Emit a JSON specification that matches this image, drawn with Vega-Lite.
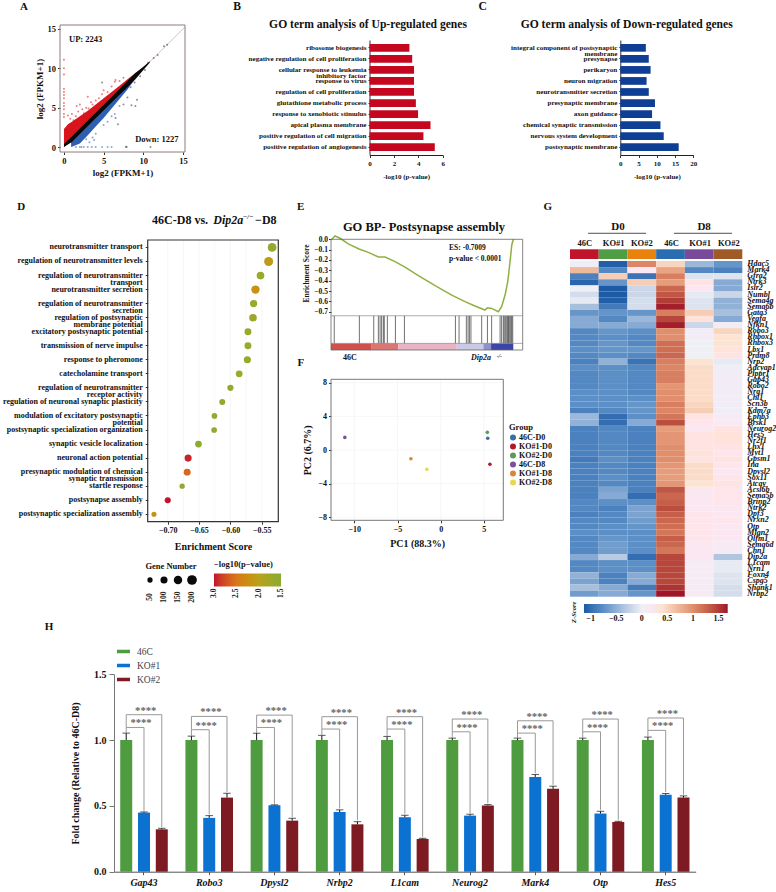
{"$schema":"https://vega.github.io/schema/vega-lite/v6.json","width":776,"height":892,"autosize":{"type":"none"},"padding":0,"background":"white",
"config":{"font":"Liberation Serif","view":{"stroke":null},"axis":{"grid":false,"labelFont":"Liberation Serif","titleFont":"Liberation Serif","labelFontWeight":"bold","titleFontWeight":"bold","labelColor":"#111","titleColor":"#111","labelOverlap":false,"labelFlush":false,"tickSize":2.5,"labelPadding":2,"domainColor":"#333","tickColor":"#333"},"legend":{"labelFont":"Liberation Serif","titleFont":"Liberation Serif","labelFontWeight":"bold","titleFontWeight":"bold","labelColor":"#111","titleColor":"#111"},"text":{"font":"Liberation Serif","fontWeight":"bold","color":"#111"}},
"datasets":{"bars":[{"gene":"Gap43","s":"46C","v":1,"e":1.053},{"gene":"Gap43","s":"KO#1","v":0.449,"e":0.454},{"gene":"Gap43","s":"KO#2","v":0.322,"e":0.33},{"gene":"Robo3","s":"46C","v":1,"e":1.03},{"gene":"Robo3","s":"KO#1","v":0.409,"e":0.426},{"gene":"Robo3","s":"KO#2","v":0.563,"e":0.596},{"gene":"Dpysl2","s":"46C","v":1,"e":1.053},{"gene":"Dpysl2","s":"KO#1","v":0.505,"e":0.508},{"gene":"Dpysl2","s":"KO#2","v":0.388,"e":0.406},{"gene":"Nrbp2","s":"46C","v":1,"e":1.036},{"gene":"Nrbp2","s":"KO#1","v":0.454,"e":0.47},{"gene":"Nrbp2","s":"KO#2","v":0.36,"e":0.38},{"gene":"L1cam","s":"46C","v":1,"e":1.028},{"gene":"L1cam","s":"KO#1","v":0.414,"e":0.429},{"gene":"L1cam","s":"KO#2","v":0.249,"e":0.254},{"gene":"Neurog2","s":"46C","v":1,"e":1.015},{"gene":"Neurog2","s":"KO#1","v":0.426,"e":0.437},{"gene":"Neurog2","s":"KO#2","v":0.503,"e":0.51},{"gene":"Mark4","s":"46C","v":1,"e":1.015},{"gene":"Mark4","s":"KO#1","v":0.72,"e":0.739},{"gene":"Mark4","s":"KO#2","v":0.63,"e":0.65},{"gene":"Otp","s":"46C","v":1,"e":1.015},{"gene":"Otp","s":"KO#1","v":0.442,"e":0.459},{"gene":"Otp","s":"KO#2","v":0.378,"e":0.383},{"gene":"Hes5","s":"46C","v":1,"e":1.023},{"gene":"Hes5","s":"KO#1","v":0.584,"e":0.594},{"gene":"Hes5","s":"KO#2","v":0.563,"e":0.576}]},
"resolve":{"scale":{"x":"independent","y":"independent","color":"independent","size":"independent","xOffset":"independent"},"axis":{"x":"independent","y":"independent"},"legend":{"color":"independent","size":"independent"}},
"layer":[
{"data":{"values":[{"x":0,"y":0},{"x":15.25,"y":15.25}]},"mark":{"type":"line","color":"#e6bcbc","strokeWidth":1},"encoding":{"x":{"field":"x","type":"quantitative","scale":{"domain":[-0.5,15.25],"range":[60,185],"nice":false,"zero":false},"axis":{"orient":"bottom","offset":-740,"values":[0,5,10,15],"title":"log2 (FPKM+1)","labelFontSize":8.5,"titleFontSize":9,"domain":false,"titlePadding":3}},"y":{"field":"y","type":"quantitative","scale":{"domain":[-0.63,15.5],"range":[152,25],"nice":false,"zero":false},"axis":{"orient":"left","offset":-60,"values":[0,5,10,15],"title":"log2 (FPKM+1)","labelFontSize":8.5,"titleFontSize":9,"domain":false,"titlePadding":3}}}},
{"layer":[
{"data":{"values":[{"x":0,"a":0,"b":2.3},{"x":0.5,"a":0.5,"b":2.9},{"x":1,"a":1,"b":3.2},{"x":2,"a":2,"b":3.9},{"x":3,"a":3,"b":4.6},{"x":4,"a":4,"b":5.4},{"x":5,"a":5,"b":6.2},{"x":6,"a":6,"b":7},{"x":7,"a":7,"b":7.8},{"x":8,"a":8,"b":8.6},{"x":9,"a":9,"b":9.4},{"x":9.5,"a":9.5,"b":9.7}]},"mark":{"type":"area","color":"#d8141c","orient":"vertical"},"encoding":{"x":{"field":"x","type":"quantitative","scale":{"domain":[-0.5,15.25],"range":[60,185],"nice":false,"zero":false},"axis":null},"y":{"field":"a","type":"quantitative","scale":{"domain":[-0.63,15.5],"range":[152,25],"nice":false,"zero":false},"axis":null},"y2":{"field":"b"}}},
{"data":{"values":[{"x":0.9,"a":0,"b":0.9},{"x":1,"a":0.05,"b":1},{"x":2,"a":0.45,"b":2},{"x":3,"a":1.5,"b":3},{"x":4,"a":2.6,"b":4},{"x":5,"a":3.7,"b":5},{"x":6,"a":4.9,"b":6},{"x":7,"a":6.1,"b":7},{"x":8,"a":7.3,"b":8},{"x":9,"a":8.7,"b":9},{"x":9.5,"a":9.4,"b":9.5}]},"mark":{"type":"area","color":"#2f5fb0","orient":"vertical"},"encoding":{"x":{"field":"x","type":"quantitative","axis":null},"y":{"field":"a","type":"quantitative","axis":null},"y2":{"field":"b"}}},
{"data":{"values":[{"x":0,"a":0,"b":0.4},{"x":1,"a":0.65,"b":1.35},{"x":2,"a":1.65,"b":2.35},{"x":4,"a":3.65,"b":4.35},{"x":6,"a":5.65,"b":6.35},{"x":8,"a":7.6,"b":8.4},{"x":9,"a":8.6,"b":9.4},{"x":10,"a":9.8,"b":10.2},{"x":10.8,"a":10.7,"b":10.9}]},"mark":{"type":"area","color":"#0a0a0a","orient":"vertical"},"encoding":{"x":{"field":"x","type":"quantitative","axis":null},"y":{"field":"a","type":"quantitative","axis":null},"y2":{"field":"b"}}},
{"data":{"values":[{"x":0,"y":11.1,"k":"up"},{"x":0,"y":10,"k":"up"},{"x":0,"y":9.2,"k":"up"},{"x":0,"y":7.4,"k":"up"},{"x":0,"y":7,"k":"up"},{"x":0,"y":6.6,"k":"up"},{"x":0,"y":6.2,"k":"up"},{"x":0,"y":5.6,"k":"up"},{"x":0,"y":5.2,"k":"up"},{"x":0,"y":4.8,"k":"up"},{"x":0,"y":4.2,"k":"up"},{"x":0,"y":3.8,"k":"up"},{"x":0.5,"y":4,"k":"up"},{"x":0.8,"y":3.6,"k":"up"},{"x":1,"y":4.2,"k":"up"},{"x":1.2,"y":3.4,"k":"up"},{"x":1.5,"y":3.9,"k":"up"},{"x":1.6,"y":5.2,"k":"up"},{"x":1.8,"y":4.5,"k":"up"},{"x":2,"y":5.4,"k":"up"},{"x":2.3,"y":4.8,"k":"up"},{"x":2.5,"y":4.3,"k":"up"},{"x":2.8,"y":5,"k":"up"},{"x":3,"y":6.4,"k":"up"},{"x":3.1,"y":4.9,"k":"up"},{"x":3.4,"y":5.7,"k":"up"},{"x":3.6,"y":5.4,"k":"up"},{"x":4,"y":5.9,"k":"up"},{"x":4.4,"y":6.2,"k":"up"},{"x":4.8,"y":6.7,"k":"up"},{"x":5,"y":7.2,"k":"up"},{"x":4.8,"y":8.2,"k":"ns"},{"x":5.5,"y":7,"k":"up"},{"x":6,"y":7.7,"k":"up"},{"x":6.4,"y":8.3,"k":"up"},{"x":6.5,"y":8.5,"k":"up"},{"x":7,"y":8.4,"k":"up"},{"x":7.5,"y":8.8,"k":"up"},{"x":1.5,"y":0,"k":"down"},{"x":2,"y":0,"k":"down"},{"x":2.2,"y":0,"k":"down"},{"x":2.5,"y":0,"k":"down"},{"x":3,"y":0,"k":"down"},{"x":3.5,"y":0,"k":"down"},{"x":4,"y":0,"k":"down"},{"x":4.8,"y":0,"k":"down"},{"x":5.5,"y":0,"k":"down"},{"x":6,"y":0,"k":"down"},{"x":7.9,"y":0,"k":"ns"},{"x":7.8,"y":0.05,"k":"ns"},{"x":10.9,"y":0,"k":"ns"},{"x":2.8,"y":1,"k":"down"},{"x":3.2,"y":0.6,"k":"down"},{"x":3.6,"y":1.2,"k":"down"},{"x":3.8,"y":0.9,"k":"down"},{"x":4,"y":1.7,"k":"down"},{"x":5,"y":2.8,"k":"down"},{"x":5.5,"y":3.2,"k":"down"},{"x":6,"y":3.9,"k":"down"},{"x":6.5,"y":3.7,"k":"ns"},{"x":6.8,"y":2.9,"k":"ns"},{"x":6.4,"y":4.2,"k":"down"},{"x":7,"y":5.2,"k":"down"},{"x":7.5,"y":5.4,"k":"ns"},{"x":8,"y":6.3,"k":"ns"},{"x":8.5,"y":5.3,"k":"ns"},{"x":9,"y":5.2,"k":"ns"},{"x":9.2,"y":6,"k":"ns"},{"x":8.4,"y":7.6,"k":"ns"},{"x":8.9,"y":8.2,"k":"ns"},{"x":9.6,"y":9,"k":"ns"},{"x":10.2,"y":9.8,"k":"ns"},{"x":10.6,"y":10.7,"k":"ns"},{"x":11.3,"y":11.3,"k":"ns"},{"x":11.8,"y":11.7,"k":"ns"},{"x":12.6,"y":12.8,"k":"ns"},{"x":13,"y":13,"k":"ns"}]},"mark":{"type":"circle","size":4,"opacity":0.55},"encoding":{"x":{"field":"x","type":"quantitative","axis":null},"y":{"field":"y","type":"quantitative","axis":null},"color":{"field":"k","type":"nominal","legend":null,"scale":{"domain":["up","down","ns"],"range":["#d8141c","#2f5fb0","#333333"]}}}},
{"data":{"values":[{"x0":-0.5,"x1":15.25,"y0":-0.63,"y1":15.5}]},"mark":{"type":"rect","filled":false,"stroke":"#8c7b7b","strokeWidth":1},"encoding":{"x":{"field":"x0","type":"quantitative","axis":null},"x2":{"field":"x1"},"y":{"field":"y0","type":"quantitative","axis":null},"y2":{"field":"y1"}}},
{"data":{"values":[{"t":"A","x":-5.04,"y":17.8}]},"mark":{"type":"text","fontSize":11},"encoding":{"text":{"field":"t"},"x":{"field":"x","type":"quantitative","axis":null},"y":{"field":"y","type":"quantitative","axis":null}}},
{"data":{"values":[{"t":"UP: 2243","x":2.73,"y":13.7},{"t":"Down: 1227","x":11.7,"y":0.97}]},"mark":{"type":"text","fontSize":8.5},"encoding":{"text":{"field":"t"},"x":{"field":"x","type":"quantitative","axis":null},"y":{"field":"y","type":"quantitative","axis":null}}}
]},
{"data":{"values":[{"t":"ribosome biogenesis","v":3.27},{"t":"negative regulation of cell proliferation","v":3.5},{"t":"cellular response to leukemia|inhibitory factor","v":3.65},{"t":"response to virus","v":3.65},{"t":"regulation of cell proliferation","v":3.65},{"t":"glutathione metabolic process","v":3.8},{"t":"response to xenobiotic stimulus","v":3.98},{"t":"apical plasma membrane","v":5},{"t":"positive regulation of cell migration","v":4.42},{"t":"positive regulation of angiogenesis","v":5.35}]},"mark":{"type":"bar","color":"#c4061f"},"encoding":{"x":{"field":"v","type":"quantitative","scale":{"domain":[0,6],"range":[369.5,442.7],"nice":false},"axis":{"orient":"bottom","offset":-737,"values":[0,2,4,6],"title":"-log10 (p-value)","labelFontSize":7,"titleFontSize":7,"domainColor":"#222","titlePadding":6}},"y":{"field":"t","type":"nominal","scale":{"type":"band","domain":["ribosome biogenesis","negative regulation of cell proliferation","cellular response to leukemia|inhibitory factor","response to virus","regulation of cell proliferation","glutathione metabolic process","response to xenobiotic stimulus","apical plasma membrane","positive regulation of cell migration","positive regulation of angiogenesis"],"range":[40,155],"paddingInner":0.3,"paddingOuter":0.36},"axis":{"orient":"left","offset":-369.5,"title":null,"labelExpr":"split(datum.value,'|')","labelFontSize":7.1,"labelLineHeight":6.5,"tickSize":1.5}}}},
{"layer":[
{"data":{"values":[{"t":"GO term analysis of Up-regulated genes","x":-0.12,"u":1.13},{"t":"B","x":-10.86,"u":1.29}]},"mark":{"type":"text","fontSize":11.6},"encoding":{"text":{"field":"t"},"x":{"field":"x","type":"quantitative","scale":{"domain":[0,6],"range":[369.5,442.7],"nice":false},"axis":null},"y":{"field":"u","type":"quantitative","scale":{"domain":[0,1],"range":[155,40],"nice":false},"axis":null}}}
]},
{"data":{"values":[{"t":"integral component of postsynaptic|membrane","v":7},{"t":"presynapse","v":7.8},{"t":"perikaryon","v":8.3},{"t":"neuron migration","v":7.2},{"t":"neurotransmitter secretion","v":7.8},{"t":"presynaptic membrane","v":9.5},{"t":"axon guidance","v":8.7},{"t":"chemical synaptic transmission","v":11},{"t":"nervous system development","v":11.9},{"t":"postsynaptic membrane","v":16}]},"mark":{"type":"bar","color":"#0f3f94"},"encoding":{"x":{"field":"v","type":"quantitative","scale":{"domain":[0,20],"range":[620.3,693.3],"nice":false},"axis":{"orient":"bottom","offset":-737,"values":[0,5,10,15,20],"title":"-log10 (p-value)","labelFontSize":7,"titleFontSize":7,"domainColor":"#222","titlePadding":6}},"y":{"field":"t","type":"nominal","scale":{"type":"band","domain":["integral component of postsynaptic|membrane","presynapse","perikaryon","neuron migration","neurotransmitter secretion","presynaptic membrane","axon guidance","chemical synaptic transmission","nervous system development","postsynaptic membrane"],"range":[40,155],"paddingInner":0.3,"paddingOuter":0.36},"axis":{"orient":"left","offset":-620.3,"title":null,"labelExpr":"split(datum.value,'|')","labelFontSize":7.1,"labelLineHeight":6.5,"tickSize":1.5}}}},
{"layer":[
{"data":{"values":[{"t":"GO term analysis of Down-regulated genes","x":1.75,"u":1.13},{"t":"C","x":-37.7,"u":1.29}]},"mark":{"type":"text","fontSize":11.6},"encoding":{"text":{"field":"t"},"x":{"field":"x","type":"quantitative","scale":{"domain":[0,20],"range":[620.3,693.3],"nice":false},"axis":null},"y":{"field":"u","type":"quantitative","scale":{"domain":[0,1],"range":[155,40],"nice":false,"zero":false},"axis":null}}}
]},
{"layer":[
{"data":{"values":[{"x":-0.7},{"x":-0.65},{"x":-0.6},{"x":-0.55},{"x":-0.675},{"x":-0.625},{"x":-0.575}]},"mark":{"type":"rule","color":"#f3f3f3","strokeWidth":0.7},"encoding":{"x":{"field":"x","type":"quantitative","scale":{"domain":[-0.732,-0.5236],"range":[147.7,278.3],"nice":false,"zero":false},"axis":null},"y":{"datum":0,"type":"quantitative","scale":{"domain":[0,1],"range":[521.7,240],"nice":false,"zero":false},"axis":null},"y2":{"datum":1}}},
{"data":{"values":[{"x0":-0.732,"x1":-0.5236,"y0":0,"y1":1}]},"mark":{"type":"rect","filled":false,"stroke":"#333","strokeWidth":1.2},"encoding":{"x":{"field":"x0","type":"quantitative","axis":null},"x2":{"field":"x1"},"y":{"field":"y0","type":"quantitative","axis":null},"y2":{"field":"y1"}}}
]},
{"data":{"values":[{"t":"neurotransmitter transport","es":-0.5335,"n":160,"p":1.6},{"t":"regulation of neurotransmitter levels","es":-0.539,"n":170,"p":2.1},{"t":"regulation of neurotransmitter|transport","es":-0.552,"n":120,"p":1.65},{"t":"neurotransmitter secretion","es":-0.56,"n":145,"p":2.2},{"t":"regulation of neurotransmitter|secretion","es":-0.563,"n":105,"p":1.65},{"t":"regulation of postsynaptic|membrane potential","es":-0.564,"n":115,"p":1.7},{"t":"excitatory postsynaptic potential","es":-0.572,"n":95,"p":1.65},{"t":"transmission of nerve impulse","es":-0.572,"n":95,"p":1.65},{"t":"response to pheromone","es":-0.573,"n":100,"p":1.65},{"t":"catecholamine transport","es":-0.586,"n":90,"p":1.7},{"t":"regulation of neurotransmitter|receptor activity","es":-0.6,"n":75,"p":1.65},{"t":"regulation of neuronal synaptic plasticity","es":-0.613,"n":70,"p":1.6},{"t":"modulation of excitatory postsynaptic|potential","es":-0.6255,"n":60,"p":1.6},{"t":"postsynaptic specialization organization","es":-0.626,"n":60,"p":1.6},{"t":"synaptic vesicle localization","es":-0.651,"n":90,"p":1.55},{"t":"neuronal action potential","es":-0.6675,"n":100,"p":2.95},{"t":"presynaptic modulation of chemical|synaptic transmission","es":-0.669,"n":95,"p":2.6},{"t":"startle response","es":-0.677,"n":50,"p":1.55},{"t":"postsynapse assembly","es":-0.7,"n":70,"p":3},{"t":"postsynaptic specialization assembly","es":-0.722,"n":45,"p":2.2}]},"mark":{"type":"circle","opacity":1},"encoding":{"x":{"field":"es","type":"quantitative","scale":{"domain":[-0.732,-0.5236],"range":[147.7,278.3],"nice":false,"zero":false},"axis":{"orient":"bottom","offset":-370.3,"values":[-0.7,-0.65,-0.6,-0.55],"format":".2f","title":"Enrichment Score","labelFontSize":8,"titleFontSize":10,"domain":false,"titlePadding":7}},"y":{"field":"t","type":"nominal","sort":null,"scale":{"type":"band","domain":["neurotransmitter transport","regulation of neurotransmitter levels","regulation of neurotransmitter|transport","neurotransmitter secretion","regulation of neurotransmitter|secretion","regulation of postsynaptic|membrane potential","excitatory postsynaptic potential","transmission of nerve impulse","response to pheromone","catecholamine transport","regulation of neurotransmitter|receptor activity","regulation of neuronal synaptic plasticity","modulation of excitatory postsynaptic|potential","postsynaptic specialization organization","synaptic vesicle localization","neuronal action potential","presynaptic modulation of chemical|synaptic transmission","startle response","postsynapse assembly","postsynaptic specialization assembly"],"range":[240,521.7],"paddingInner":0,"paddingOuter":0.03},"axis":{"orient":"left","offset":-147.7,"title":null,"domain":false,"labelExpr":"split(datum.value,'|')","labelFontSize":8,"labelLineHeight":7,"labelPadding":3}},"size":{"field":"n","type":"quantitative","legend":null,"scale":{"domain":[50,200],"range":[28,95]}},"color":{"field":"p","type":"quantitative","scale":{"domain":[3,2.5,2,1.5],"range":["#c4122e","#d9761a","#b9a21e","#8aab35"]},"legend":{"orient":"none","legendX":214,"legendY":560,"direction":"horizontal","title":"−log10(p−value)","gradientLength":67,"gradientThickness":13,"values":[3,2.5,2,1.5],"format":".1f","labelFontSize":7.5,"titleFontSize":8.5,"encoding":{"labels":{"angle":{"value":-90},"align":{"value":"right"},"baseline":{"value":"middle"}}}}}}},
{"layer":[
{"data":{"values":[{"t":"46C-D8 vs. ","x":-0.725,"u":1.07},{"t":"−D8","x":-0.5607,"u":1.07}]},"mark":{"type":"text","fontSize":12,"align":"left"},"encoding":{"text":{"field":"t"},"x":{"field":"x","type":"quantitative","scale":{"domain":[-0.732,-0.5236],"range":[147.7,278.3],"nice":false,"zero":false},"axis":null},"y":{"field":"u","type":"quantitative","scale":{"domain":[0,1],"range":[521.7,240],"nice":false,"zero":false},"axis":null}}},
{"data":{"values":[{"t":"Dip2a","x":-0.6273,"u":1.07}]},"mark":{"type":"text","fontSize":12,"fontStyle":"italic","align":"left"},"encoding":{"text":{"field":"t"},"x":{"field":"x","type":"quantitative","axis":null},"y":{"field":"u","type":"quantitative","axis":null}}},
{"data":{"values":[{"t":"−/−","x":-0.5804,"u":1.08}]},"mark":{"type":"text","fontSize":7,"fontStyle":"italic","align":"left"},"encoding":{"text":{"field":"t"},"x":{"field":"x","type":"quantitative","axis":null},"y":{"field":"u","type":"quantitative","axis":null}}},
{"data":{"values":[{"t":"D","x":-0.934,"u":1.117}]},"mark":{"type":"text","fontSize":11},"encoding":{"text":{"field":"t"},"x":{"field":"x","type":"quantitative","axis":null},"y":{"field":"u","type":"quantitative","axis":null}}}
]},
{"layer":[
{"data":{"values":[{"n":50},{"n":100},{"n":150},{"n":200}]},"mark":{"type":"circle","color":"#0a0a0a","opacity":1},"encoding":{"x":{"field":"n","type":"quantitative","scale":{"domain":[50,200],"range":[150,192],"nice":false,"zero":false},"axis":null},"y":{"datum":26,"type":"quantitative","scale":{"domain":[0,40],"range":[606,566],"nice":false,"zero":false},"axis":null},"size":{"field":"n","type":"quantitative","legend":null,"scale":{"domain":[50,200],"range":[28,95]}}}},
{"data":{"values":[{"n":50},{"n":100},{"n":150},{"n":200}]},"mark":{"type":"text","fontSize":7.5,"angle":270},"encoding":{"text":{"field":"n","type":"nominal"},"x":{"field":"n","type":"quantitative","axis":null},"y":{"datum":9,"type":"quantitative","axis":null}}},
{"data":{"values":[{"t":"Gene Number"}]},"mark":{"type":"text","fontSize":8.5},"encoding":{"text":{"field":"t"},"x":{"datum":125,"type":"quantitative","axis":null},"y":{"datum":40,"type":"quantitative","axis":null}}}
]},
{"data":{"values":[{"x0":0,"x1":20.9,"z":"z1"},{"x0":20.9,"x1":35.1,"z":"z2"},{"x0":35.1,"x1":65.6,"z":"z3"},{"x0":65.6,"x1":79.5,"z":"z4"},{"x0":79.5,"x1":83.5,"z":"z5"},{"x0":83.5,"x1":95.1,"z":"z6"}]},"mark":{"type":"rect"},"encoding":{"x":{"field":"x0","type":"quantitative","scale":{"domain":[0,100],"range":[331,522.7],"nice":false,"zero":false},"axis":null},"x2":{"field":"x1"},"y":{"datum":-1.006,"type":"quantitative","scale":{"domain":[-1.07,0],"range":[350,239.3],"nice":false,"zero":false},"axis":{"orient":"left","offset":-331,"values":[0,-0.1,-0.2,-0.3,-0.4,-0.5,-0.6,-0.7],"format":".1f","title":"Enrichment Score","labelFontSize":7.5,"titleFontSize":7.5,"domain":false,"titlePadding":3,"labelPadding":1,"titleY":273}},"y2":{"datum":-1.07},"color":{"field":"z","type":"nominal","legend":null,"scale":{"domain":["z1","z2","z3","z4","z5","z6"],"range":["#d2504c","#dd7672","#e8b4c4","#c8cae6","#8e92c8","#3c46a8"]}}}},
{"layer":[
{"data":{"values":[{"x":1.7},{"x":14.8},{"x":22.3},{"x":24.7},{"x":25.6},{"x":26.4},{"x":27.3},{"x":27.8},{"x":29.4},{"x":33.6},{"x":38.3},{"x":64.9},{"x":66.8},{"x":70.6},{"x":71.5},{"x":72.2},{"x":73},{"x":78.6},{"x":81.6},{"x":83.8},{"x":88.2},{"x":89},{"x":89.9},{"x":90.4},{"x":91.1},{"x":91.7},{"x":92.2},{"x":92.5},{"x":92.9},{"x":93.4},{"x":93.9},{"x":94.3},{"x":94.8}]},"mark":{"type":"rule","color":"#333","strokeWidth":0.7},"encoding":{"x":{"field":"x","type":"quantitative","scale":{"domain":[0,100],"range":[331,522.7],"nice":false,"zero":false},"axis":null},"y":{"datum":-0.739,"type":"quantitative","scale":{"domain":[-1.07,0],"range":[350,239.3],"nice":false,"zero":false},"axis":null},"y2":{"datum":-1.006}}},
{"data":{"values":[{"y":-0.739},{"y":-1.006}]},"mark":{"type":"rule","color":"#888","strokeWidth":0.7},"encoding":{"x":{"datum":0,"type":"quantitative","axis":null},"x2":{"datum":100},"y":{"field":"y","type":"quantitative","axis":null}}},
{"data":{"values":[{"x":0,"y":-0.006,"o":0},{"x":2.09,"y":0.032,"o":1},{"x":4.7,"y":0.01,"o":2},{"x":9.04,"y":-0.045,"o":3},{"x":14.6,"y":-0.094,"o":4},{"x":19.5,"y":-0.126,"o":5},{"x":24.7,"y":-0.171,"o":6},{"x":28.2,"y":-0.171,"o":7},{"x":33.4,"y":-0.216,"o":8},{"x":38.6,"y":-0.268,"o":9},{"x":45.6,"y":-0.352,"o":10},{"x":54.3,"y":-0.448,"o":11},{"x":63,"y":-0.539,"o":12},{"x":69.9,"y":-0.603,"o":13},{"x":75.1,"y":-0.645,"o":14},{"x":80.3,"y":-0.684,"o":15},{"x":81.6,"y":-0.661,"o":16},{"x":83.8,"y":-0.668,"o":17},{"x":87.3,"y":-0.7,"o":18},{"x":89,"y":-0.652,"o":19},{"x":90.8,"y":-0.539,"o":20},{"x":92.2,"y":-0.41,"o":21},{"x":93.4,"y":-0.216,"o":22},{"x":94.3,"y":-0.055,"o":23},{"x":95.1,"y":0,"o":24}]},"mark":{"type":"line","color":"#8fb040","strokeWidth":1.5},"encoding":{"x":{"field":"x","type":"quantitative","axis":null},"y":{"field":"y","type":"quantitative","axis":null},"order":{"field":"o"}}},
{"data":{"values":[{"x0":0,"x1":100,"y0":-1.07,"y1":0}]},"mark":{"type":"rect","filled":false,"stroke":"#666","strokeWidth":0.8},"encoding":{"x":{"field":"x0","type":"quantitative","axis":null},"x2":{"field":"x1"},"y":{"field":"y0","type":"quantitative","axis":null},"y2":{"field":"y1"}}},
{"data":{"values":[{"t":"ES: -0.7009","x":61.6,"y":-0.087},{"t":"p-value < 0.0001","x":61.6,"y":-0.19}]},"mark":{"type":"text","fontSize":7.5,"align":"left"},"encoding":{"text":{"field":"t"},"x":{"field":"x","type":"quantitative","axis":null},"y":{"field":"y","type":"quantitative","axis":null}}},
{"data":{"values":[{"t":"GO BP- Postsynapse assembly","x":48.5,"y":0.116}]},"mark":{"type":"text","fontSize":12.5},"encoding":{"text":{"field":"t"},"x":{"field":"x","type":"quantitative","axis":null},"y":{"field":"y","type":"quantitative","axis":null}}},
{"data":{"values":[{"t":"E","x":-15.8,"y":0.312}]},"mark":{"type":"text","fontSize":11},"encoding":{"text":{"field":"t"},"x":{"field":"x","type":"quantitative","axis":null},"y":{"field":"y","type":"quantitative","axis":null}}},
{"data":{"values":[{"t":"46C","x":9.9,"y":-1.145}]},"mark":{"type":"text","fontSize":8},"encoding":{"text":{"field":"t"},"x":{"field":"x","type":"quantitative","axis":null},"y":{"field":"y","type":"quantitative","axis":null}}},
{"data":{"values":[{"t":"Dip2a","x":73,"y":-1.145}]},"mark":{"type":"text","fontSize":8,"fontStyle":"italic","align":"left"},"encoding":{"text":{"field":"t"},"x":{"field":"x","type":"quantitative","axis":null},"y":{"field":"y","type":"quantitative","axis":null}}},
{"data":{"values":[{"t":"-/-","x":86.4,"y":-1.125}]},"mark":{"type":"text","fontSize":5.5,"fontStyle":"italic","align":"left"},"encoding":{"text":{"field":"t"},"x":{"field":"x","type":"quantitative","axis":null},"y":{"field":"y","type":"quantitative","axis":null}}}
]},
{"data":{"values":[{"x":-10},{"x":-5},{"x":0},{"x":5}]},"mark":{"type":"rule","color":"#f3f3f3","strokeWidth":0.7},"encoding":{"x":{"field":"x","type":"quantitative","scale":{"domain":[-12.7,7.25],"range":[331,503.3],"nice":false,"zero":false},"axis":{"orient":"bottom","offset":-371.7,"values":[-10,-5,0,5],"title":"PC1 (88.3%)","labelFontSize":8,"titleFontSize":10,"domain":false,"titlePadding":5,"labelPadding":3}},"y":{"datum":-8.35,"type":"quantitative","scale":{"domain":[-8.35,8.4],"range":[520.3,379.3],"nice":false,"zero":false},"axis":{"orient":"left","offset":-331,"values":[-8,-4,0,4,8],"title":"PC2 (6.7%)","labelFontSize":8,"titleFontSize":10,"domain":false,"titlePadding":5}},"y2":{"datum":8.4}}},
{"layer":[
{"data":{"values":[{"y":-8},{"y":-4},{"y":0},{"y":4},{"y":8}]},"mark":{"type":"rule","color":"#f3f3f3","strokeWidth":0.7},"encoding":{"x":{"datum":-12.7,"type":"quantitative","scale":{"domain":[-12.7,7.25],"range":[331,503.3],"nice":false,"zero":false},"axis":null},"x2":{"datum":7.25},"y":{"field":"y","type":"quantitative","scale":{"domain":[-8.35,8.4],"range":[520.3,379.3],"nice":false,"zero":false},"axis":null}}},
{"data":{"values":[{"x0":-12.7,"x1":7.25,"y0":-8.35,"y1":8.4}]},"mark":{"type":"rect","filled":false,"stroke":"#777","strokeWidth":1},"encoding":{"x":{"field":"x0","type":"quantitative","axis":null},"x2":{"field":"x1"},"y":{"field":"y0","type":"quantitative","axis":null},"y2":{"field":"y1"}}},
{"data":{"values":[{"g":"46C-D0","x":5.45,"y":1.4},{"g":"KO#1-D0","x":5.7,"y":-1.7},{"g":"KO#2-D0","x":5.4,"y":2.1},{"g":"46C-D8","x":-11.1,"y":1.5},{"g":"KO#1-D8","x":-3.45,"y":-1.03},{"g":"KO#2-D8","x":-1.6,"y":-2.3}]},"mark":{"type":"circle","size":13,"opacity":1},"encoding":{"x":{"field":"x","type":"quantitative","axis":null},"y":{"field":"y","type":"quantitative","axis":null},"color":{"field":"g","type":"nominal","scale":{"domain":["46C-D0","KO#1-D0","KO#2-D0","46C-D8","KO#1-D8","KO#2-D8"],"range":["#3a6ea5","#b2182b","#5a9a5a","#7b4f9a","#d98a30","#e8d850"]},"legend":{"orient":"none","legendX":509,"legendY":423,"title":"Group","titleFontSize":8.5,"labelFontSize":8,"symbolSize":36,"symbolType":"circle","rowPadding":1,"labelOffset":2,"titlePadding":2}}}},
{"data":{"values":[{"t":"F","x":-16.2,"y":10.3}]},"mark":{"type":"text","fontSize":11},"encoding":{"text":{"field":"t"},"x":{"field":"x","type":"quantitative","axis":null},"y":{"field":"y","type":"quantitative","axis":null}}}
]},
{"layer":[
{"data":{"values":[{"c0":0,"c1":1,"k":"D0-46C"},{"c0":1,"c1":2,"k":"D0-KO#1"},{"c0":2,"c1":3,"k":"D0-KO#2"},{"c0":3,"c1":4,"k":"D8-46C"},{"c0":4,"c1":5,"k":"D8-KO#1"},{"c0":5,"c1":6,"k":"D8-KO#2"}]},"mark":{"type":"rect"},"encoding":{"x":{"field":"c0","type":"quantitative","scale":{"domain":[0,6],"range":[570,742.3],"nice":false,"zero":false},"axis":null},"x2":{"field":"c1"},"y":{"datum":0,"type":"quantitative","scale":{"domain":[0,2.03],"range":[259,239.3],"nice":false,"zero":false},"axis":null},"y2":{"datum":1},"color":{"field":"k","type":"nominal","legend":null,"scale":{"domain":["D0-46C","D0-KO#1","D0-KO#2","D8-46C","D8-KO#1","D8-KO#2"],"range":["#c0142a","#4f9e46","#e8820c","#2a6cb0","#7a4a9a","#a05a28"]}}}},
{"data":{"values":[{"t":"46C","x":0.52},{"t":"KO#1","x":1.52},{"t":"KO#2","x":2.5},{"t":"46C","x":3.54},{"t":"KO#1","x":4.53},{"t":"KO#2","x":5.53}]},"mark":{"type":"text","fontSize":8.5},"encoding":{"text":{"field":"t"},"x":{"field":"x","type":"quantitative","axis":null},"y":{"datum":1.68,"type":"quantitative","axis":null}}},
{"data":{"values":[{"t":"D0","x":1.67},{"t":"D8","x":4.67}]},"mark":{"type":"text","fontSize":11},"encoding":{"text":{"field":"t"},"x":{"field":"x","type":"quantitative","axis":null},"y":{"datum":3.3,"type":"quantitative","axis":null}}},
{"data":{"values":[{"a":0.63,"b":2.65},{"a":3.62,"b":5.64}]},"mark":{"type":"rule","color":"#222","strokeWidth":0.8},"encoding":{"x":{"field":"a","type":"quantitative","axis":null},"x2":{"field":"b"},"y":{"datum":2.65,"type":"quantitative","axis":null}}},
{"data":{"values":[{"t":"G","x":-0.77,"y":5.36}]},"mark":{"type":"text","fontSize":11},"encoding":{"text":{"field":"t"},"x":{"field":"x","type":"quantitative","axis":null},"y":{"field":"y","type":"quantitative","axis":null}}},
{"data":{"values":[{"t":"Z-Score","x":0.14,"y":-36.4}]},"mark":{"type":"text","fontSize":6.5,"fontStyle":"italic","angle":270},"encoding":{"text":{"field":"t"},"x":{"field":"x","type":"quantitative","axis":null},"y":{"field":"y","type":"quantitative","axis":null}}}
]},
{"data":{"values":[
{"g":"Hdac5","c":"a","z":0.05},{"g":"Hdac5","c":"b","z":-1.1},{"g":"Hdac5","c":"c","z":1.05},{"g":"Hdac5","c":"d","z":0.5},{"g":"Hdac5","c":"e","z":-0.45},{"g":"Hdac5","c":"f","z":-0.7},
{"g":"Mark4","c":"a","z":0.7},{"g":"Mark4","c":"b","z":-0.8},{"g":"Mark4","c":"c","z":0.2},{"g":"Mark4","c":"d","z":0.85},{"g":"Mark4","c":"e","z":-0.8},{"g":"Mark4","c":"f","z":-0.85},
{"g":"Gfra2","c":"a","z":-0.85},{"g":"Gfra2","c":"b","z":0.55},{"g":"Gfra2","c":"c","z":-0.95},{"g":"Gfra2","c":"d","z":1.1},{"g":"Gfra2","c":"e","z":-0.1},{"g":"Gfra2","c":"f","z":-0.1},
{"g":"Ntrk3","c":"a","z":-1.05},{"g":"Ntrk3","c":"b","z":-0.7},{"g":"Ntrk3","c":"c","z":0.55},{"g":"Ntrk3","c":"d","z":0.9},{"g":"Ntrk3","c":"e","z":0.3},{"g":"Ntrk3","c":"f","z":-0.55},
{"g":"Islr2","c":"a","z":0},{"g":"Islr2","c":"b","z":-1.13},{"g":"Islr2","c":"c","z":-0.2},{"g":"Islr2","c":"d","z":1.25},{"g":"Islr2","c":"e","z":0.2},{"g":"Islr2","c":"f","z":-0.55},
{"g":"Numbl","c":"a","z":-0.15},{"g":"Numbl","c":"b","z":-1.13},{"g":"Numbl","c":"c","z":-0.2},{"g":"Numbl","c":"d","z":1.35},{"g":"Numbl","c":"e","z":-0.05},{"g":"Numbl","c":"f","z":-0.2},
{"g":"Sema4g","c":"a","z":-0.05},{"g":"Sema4g","c":"b","z":-1.1},{"g":"Sema4g","c":"c","z":-0.15},{"g":"Sema4g","c":"d","z":1.5},{"g":"Sema4g","c":"e","z":-0.1},{"g":"Sema4g","c":"f","z":-0.5},
{"g":"Sema6b","c":"a","z":-0.4},{"g":"Sema6b","c":"b","z":-0.9},{"g":"Sema6b","c":"c","z":-0.15},{"g":"Sema6b","c":"d","z":1.65},{"g":"Sema6b","c":"e","z":-0.1},{"g":"Sema6b","c":"f","z":-0.5},
{"g":"Gata3","c":"a","z":-0.7},{"g":"Gata3","c":"b","z":-0.7},{"g":"Gata3","c":"c","z":-0.7},{"g":"Gata3","c":"d","z":1.1},{"g":"Gata3","c":"e","z":0.55},{"g":"Gata3","c":"f","z":-0.4},
{"g":"Vegfa","c":"a","z":-0.55},{"g":"Vegfa","c":"b","z":-0.8},{"g":"Vegfa","c":"c","z":-0.45},{"g":"Vegfa","c":"d","z":1.45},{"g":"Vegfa","c":"e","z":0.35},{"g":"Vegfa","c":"f","z":-0.55},
{"g":"Nfkn1","c":"a","z":-0.55},{"g":"Nfkn1","c":"b","z":-0.55},{"g":"Nfkn1","c":"c","z":-0.55},{"g":"Nfkn1","c":"d","z":1.65},{"g":"Nfkn1","c":"e","z":-0.2},{"g":"Nfkn1","c":"f","z":0.1},
{"g":"Robo3","c":"a","z":-0.8},{"g":"Robo3","c":"b","z":-0.7},{"g":"Robo3","c":"c","z":-0.75},{"g":"Robo3","c":"d","z":1},{"g":"Robo3","c":"e","z":0.1},{"g":"Robo3","c":"f","z":0.5},
{"g":"Rhbox1","c":"a","z":-0.8},{"g":"Rhbox1","c":"b","z":-0.75},{"g":"Rhbox1","c":"c","z":-0.8},{"g":"Rhbox1","c":"d","z":1},{"g":"Rhbox1","c":"e","z":0.1},{"g":"Rhbox1","c":"f","z":0.4},
{"g":"Rhbox3","c":"a","z":-0.8},{"g":"Rhbox3","c":"b","z":-0.7},{"g":"Rhbox3","c":"c","z":-0.8},{"g":"Rhbox3","c":"d","z":1.2},{"g":"Rhbox3","c":"e","z":0},{"g":"Rhbox3","c":"f","z":0.4},
{"g":"Lbx1","c":"a","z":-0.75},{"g":"Lbx1","c":"b","z":-0.7},{"g":"Lbx1","c":"c","z":-0.7},{"g":"Lbx1","c":"d","z":1.2},{"g":"Lbx1","c":"e","z":0},{"g":"Lbx1","c":"f","z":0.35},
{"g":"Prdm8","c":"a","z":-0.8},{"g":"Prdm8","c":"b","z":-0.75},{"g":"Prdm8","c":"c","z":-0.8},{"g":"Prdm8","c":"d","z":1.25},{"g":"Prdm8","c":"e","z":0},{"g":"Prdm8","c":"f","z":0.3},
{"g":"Nrp2","c":"a","z":-0.85},{"g":"Nrp2","c":"b","z":-0.5},{"g":"Nrp2","c":"c","z":-0.95},{"g":"Nrp2","c":"d","z":1.1},{"g":"Nrp2","c":"e","z":0.4},{"g":"Nrp2","c":"f","z":-0.05},
{"g":"Adcyap1","c":"a","z":-0.75},{"g":"Adcyap1","c":"b","z":-0.75},{"g":"Adcyap1","c":"c","z":-0.8},{"g":"Adcyap1","c":"d","z":1.05},{"g":"Adcyap1","c":"e","z":0.45},{"g":"Adcyap1","c":"f","z":0.05},
{"g":"Plppr1","c":"a","z":-0.8},{"g":"Plppr1","c":"b","z":-0.75},{"g":"Plppr1","c":"c","z":-0.8},{"g":"Plppr1","c":"d","z":1.1},{"g":"Plppr1","c":"e","z":0.45},{"g":"Plppr1","c":"f","z":0.1},
{"g":"Gap43","c":"a","z":-0.8},{"g":"Gap43","c":"b","z":-0.75},{"g":"Gap43","c":"c","z":-0.8},{"g":"Gap43","c":"d","z":1.1},{"g":"Gap43","c":"e","z":0.45},{"g":"Gap43","c":"f","z":0.1},
{"g":"Robo2","c":"a","z":-0.8},{"g":"Robo2","c":"b","z":-0.75},{"g":"Robo2","c":"c","z":-0.8},{"g":"Robo2","c":"d","z":0.95},{"g":"Robo2","c":"e","z":0.45},{"g":"Robo2","c":"f","z":0.1},
{"g":"Nrg1","c":"a","z":-0.75},{"g":"Nrg1","c":"b","z":-0.75},{"g":"Nrg1","c":"c","z":-0.8},{"g":"Nrg1","c":"d","z":1},{"g":"Nrg1","c":"e","z":0.45},{"g":"Nrg1","c":"f","z":0.1},
{"g":"Chl1","c":"a","z":-0.75},{"g":"Chl1","c":"b","z":-0.75},{"g":"Chl1","c":"c","z":-0.75},{"g":"Chl1","c":"d","z":1},{"g":"Chl1","c":"e","z":0.45},{"g":"Chl1","c":"f","z":0.1},
{"g":"Scn3b","c":"a","z":-0.75},{"g":"Scn3b","c":"b","z":-0.75},{"g":"Scn3b","c":"c","z":-0.7},{"g":"Scn3b","c":"d","z":1.1},{"g":"Scn3b","c":"e","z":0.5},{"g":"Scn3b","c":"f","z":0.1},
{"g":"Kdm7a","c":"a","z":-0.85},{"g":"Kdm7a","c":"b","z":-0.8},{"g":"Kdm7a","c":"c","z":-0.7},{"g":"Kdm7a","c":"d","z":1.05},{"g":"Kdm7a","c":"e","z":0.55},{"g":"Kdm7a","c":"f","z":0.05},
{"g":"Ephb3","c":"a","z":-0.45},{"g":"Ephb3","c":"b","z":-1},{"g":"Ephb3","c":"c","z":-0.75},{"g":"Ephb3","c":"d","z":1.15},{"g":"Ephb3","c":"e","z":0.3},{"g":"Ephb3","c":"f","z":0.15},
{"g":"Brsk1","c":"a","z":-0.5},{"g":"Brsk1","c":"b","z":-1},{"g":"Brsk1","c":"c","z":-0.55},{"g":"Brsk1","c":"d","z":1.4},{"g":"Brsk1","c":"e","z":0.25},{"g":"Brsk1","c":"f","z":0.15},
{"g":"Neurog2","c":"a","z":-0.85},{"g":"Neurog2","c":"b","z":-0.8},{"g":"Neurog2","c":"c","z":-0.85},{"g":"Neurog2","c":"d","z":0.9},{"g":"Neurog2","c":"e","z":0.2},{"g":"Neurog2","c":"f","z":0.3},
{"g":"Hes5","c":"a","z":-0.85},{"g":"Hes5","c":"b","z":-0.8},{"g":"Hes5","c":"c","z":-0.85},{"g":"Hes5","c":"d","z":0.95},{"g":"Hes5","c":"e","z":0.3},{"g":"Hes5","c":"f","z":0.35},
{"g":"Nr2f1","c":"a","z":-0.85},{"g":"Nr2f1","c":"b","z":-0.8},{"g":"Nr2f1","c":"c","z":-0.85},{"g":"Nr2f1","c":"d","z":0.95},{"g":"Nr2f1","c":"e","z":0.3},{"g":"Nr2f1","c":"f","z":0.35},
{"g":"Lhx1","c":"a","z":-0.85},{"g":"Lhx1","c":"b","z":-0.8},{"g":"Lhx1","c":"c","z":-0.85},{"g":"Lhx1","c":"d","z":1},{"g":"Lhx1","c":"e","z":0.3},{"g":"Lhx1","c":"f","z":0.3},
{"g":"Myt1","c":"a","z":-0.85},{"g":"Myt1","c":"b","z":-0.8},{"g":"Myt1","c":"c","z":-0.85},{"g":"Myt1","c":"d","z":1},{"g":"Myt1","c":"e","z":0.35},{"g":"Myt1","c":"f","z":0.25},
{"g":"Gpsm1","c":"a","z":-0.9},{"g":"Gpsm1","c":"b","z":-0.75},{"g":"Gpsm1","c":"c","z":-0.85},{"g":"Gpsm1","c":"d","z":1},{"g":"Gpsm1","c":"e","z":0.3},{"g":"Gpsm1","c":"f","z":0.3},
{"g":"Ina","c":"a","z":-0.85},{"g":"Ina","c":"b","z":-0.8},{"g":"Ina","c":"c","z":-0.85},{"g":"Ina","c":"d","z":0.95},{"g":"Ina","c":"e","z":0.45},{"g":"Ina","c":"f","z":0.25},
{"g":"Dpysl2","c":"a","z":-0.85},{"g":"Dpysl2","c":"b","z":-0.8},{"g":"Dpysl2","c":"c","z":-0.85},{"g":"Dpysl2","c":"d","z":0.9},{"g":"Dpysl2","c":"e","z":0.45},{"g":"Dpysl2","c":"f","z":0.2},
{"g":"Sox11","c":"a","z":-0.85},{"g":"Sox11","c":"b","z":-0.75},{"g":"Sox11","c":"c","z":-0.85},{"g":"Sox11","c":"d","z":0.9},{"g":"Sox11","c":"e","z":0.45},{"g":"Sox11","c":"f","z":0.25},
{"g":"Atcay","c":"a","z":-0.85},{"g":"Atcay","c":"b","z":-0.8},{"g":"Atcay","c":"c","z":-0.85},{"g":"Atcay","c":"d","z":0.95},{"g":"Atcay","c":"e","z":0.4},{"g":"Atcay","c":"f","z":0.3},
{"g":"Acsl6b","c":"a","z":-0.85},{"g":"Acsl6b","c":"b","z":-0.6},{"g":"Acsl6b","c":"c","z":-0.85},{"g":"Acsl6b","c":"d","z":1.35},{"g":"Acsl6b","c":"e","z":0.2},{"g":"Acsl6b","c":"f","z":0.25},
{"g":"Sema5b","c":"a","z":-0.85},{"g":"Sema5b","c":"b","z":-0.55},{"g":"Sema5b","c":"c","z":-1},{"g":"Sema5b","c":"d","z":1.25},{"g":"Sema5b","c":"e","z":0.2},{"g":"Sema5b","c":"f","z":0.25},
{"g":"Brinp2","c":"a","z":-0.8},{"g":"Brinp2","c":"b","z":-0.75},{"g":"Brinp2","c":"c","z":-0.75},{"g":"Brinp2","c":"d","z":1.3},{"g":"Brinp2","c":"e","z":0.2},{"g":"Brinp2","c":"f","z":0.25},
{"g":"Ntrk2","c":"a","z":-0.8},{"g":"Ntrk2","c":"b","z":-0.85},{"g":"Ntrk2","c":"c","z":-0.6},{"g":"Ntrk2","c":"d","z":1.4},{"g":"Ntrk2","c":"e","z":0.2},{"g":"Ntrk2","c":"f","z":0.2},
{"g":"Dpf3","c":"a","z":-0.85},{"g":"Dpf3","c":"b","z":-0.8},{"g":"Dpf3","c":"c","z":-0.6},{"g":"Dpf3","c":"d","z":1.3},{"g":"Dpf3","c":"e","z":0.25},{"g":"Dpf3","c":"f","z":0.2},
{"g":"Nrxn2","c":"a","z":-0.8},{"g":"Nrxn2","c":"b","z":-0.8},{"g":"Nrxn2","c":"c","z":-0.65},{"g":"Nrxn2","c":"d","z":1.25},{"g":"Nrxn2","c":"e","z":0.25},{"g":"Nrxn2","c":"f","z":0.25},
{"g":"Otp","c":"a","z":-0.8},{"g":"Otp","c":"b","z":-0.75},{"g":"Otp","c":"c","z":-0.7},{"g":"Otp","c":"d","z":1.2},{"g":"Otp","c":"e","z":0.25},{"g":"Otp","c":"f","z":0.2},
{"g":"Mlgn2","c":"a","z":-0.75},{"g":"Mlgn2","c":"b","z":-0.75},{"g":"Mlgn2","c":"c","z":-0.75},{"g":"Mlgn2","c":"d","z":1.15},{"g":"Mlgn2","c":"e","z":0.25},{"g":"Mlgn2","c":"f","z":0.2},
{"g":"Olfm1","c":"a","z":-0.8},{"g":"Olfm1","c":"b","z":-0.7},{"g":"Olfm1","c":"c","z":-0.75},{"g":"Olfm1","c":"d","z":1.3},{"g":"Olfm1","c":"e","z":0.25},{"g":"Olfm1","c":"f","z":0.2},
{"g":"Sema6d","c":"a","z":-0.8},{"g":"Sema6d","c":"b","z":-0.65},{"g":"Sema6d","c":"c","z":-0.75},{"g":"Sema6d","c":"d","z":1.25},{"g":"Sema6d","c":"e","z":0.2},{"g":"Sema6d","c":"f","z":0.15},
{"g":"Chn1","c":"a","z":-0.8},{"g":"Chn1","c":"b","z":-0.65},{"g":"Chn1","c":"c","z":-0.75},{"g":"Chn1","c":"d","z":1.15},{"g":"Chn1","c":"e","z":0.2},{"g":"Chn1","c":"f","z":0.15},
{"g":"Dip2a","c":"a","z":-0.55},{"g":"Dip2a","c":"b","z":-0.3},{"g":"Dip2a","c":"c","z":-1},{"g":"Dip2a","c":"d","z":1.45},{"g":"Dip2a","c":"e","z":0.2},{"g":"Dip2a","c":"f","z":-0.35},
{"g":"L1cam","c":"a","z":-0.8},{"g":"L1cam","c":"b","z":-0.75},{"g":"L1cam","c":"c","z":-0.75},{"g":"L1cam","c":"d","z":1.45},{"g":"L1cam","c":"e","z":0.15},{"g":"L1cam","c":"f","z":-0.05},
{"g":"Nrn1","c":"a","z":-0.8},{"g":"Nrn1","c":"b","z":-0.75},{"g":"Nrn1","c":"c","z":-0.75},{"g":"Nrn1","c":"d","z":1.45},{"g":"Nrn1","c":"e","z":0.15},{"g":"Nrn1","c":"f","z":-0.05},
{"g":"Foxn4","c":"a","z":-0.5},{"g":"Foxn4","c":"b","z":-0.85},{"g":"Foxn4","c":"c","z":-0.55},{"g":"Foxn4","c":"d","z":1.45},{"g":"Foxn4","c":"e","z":0.15},{"g":"Foxn4","c":"f","z":-0.1},
{"g":"Cspg5","c":"a","z":-0.6},{"g":"Cspg5","c":"b","z":-0.85},{"g":"Cspg5","c":"c","z":-0.55},{"g":"Cspg5","c":"d","z":1.45},{"g":"Cspg5","c":"e","z":0.15},{"g":"Cspg5","c":"f","z":-0.1},
{"g":"Shank1","c":"a","z":-0.4},{"g":"Shank1","c":"b","z":-0.55},{"g":"Shank1","c":"c","z":-0.9},{"g":"Shank1","c":"d","z":1.55},{"g":"Shank1","c":"e","z":0.15},{"g":"Shank1","c":"f","z":-0.15},
{"g":"Nrbp2","c":"a","z":-0.65},{"g":"Nrbp2","c":"b","z":-0.55},{"g":"Nrbp2","c":"c","z":-0.7},{"g":"Nrbp2","c":"d","z":1.68},{"g":"Nrbp2","c":"e","z":0.15},{"g":"Nrbp2","c":"f","z":-0.15}
]},"mark":{"type":"rect"},"encoding":{"x":{"field":"c","type":"nominal","scale":{"type":"band","domain":["a","b","c","d","e","f"],"range":[570,742.3],"padding":0},"axis":null},"y":{"field":"g","type":"nominal","scale":{"type":"band","domain":["Hdac5","Mark4","Gfra2","Ntrk3","Islr2","Numbl","Sema4g","Sema6b","Gata3","Vegfa","Nfkn1","Robo3","Rhbox1","Rhbox3","Lbx1","Prdm8","Nrp2","Adcyap1","Plppr1","Gap43","Robo2","Nrg1","Chl1","Scn3b","Kdm7a","Ephb3","Brsk1","Neurog2","Hes5","Nr2f1","Lhx1","Myt1","Gpsm1","Ina","Dpysl2","Sox11","Atcay","Acsl6b","Sema5b","Brinp2","Ntrk2","Dpf3","Nrxn2","Otp","Mlgn2","Olfm1","Sema6d","Chn1","Dip2a","L1cam","Nrn1","Foxn4","Cspg5","Shank1","Nrbp2"],"range":[261,596.7],"padding":0},"axis":{"orient":"right","offset":-33.7,"title":null,"domain":false,"ticks":false,"labelFontSize":8,"labelFontStyle":"italic","labelPadding":4.5}},"color":{"field":"z","type":"quantitative","scale":{"domain":[-1.13,-0.75,-0.4,0,0.4,1,1.68],"range":["#1d5ba6","#5b8fc6","#a5bfdd","#eef0f5","#fde3d2","#e08e6c","#a01428"]},"legend":{"orient":"none","legendX":584,"legendY":604,"direction":"horizontal","title":null,"gradientLength":143.7,"gradientThickness":9,"values":[-1,-0.5,0,0.5,1,1.5],"labelExpr":"datum.value === 1.5 ? '1.5' : format(datum.value, '.1~f')","labelFontSize":8}}}},
{"data":{"name":"bars"},"mark":{"type":"bar"},"encoding":{"x":{"field":"gene","type":"nominal","scale":{"type":"band","domain":["Gap43","Robo3","Dpysl2","Nrbp2","L1cam","Neurog2","Mark4","Otp","Hes5"],"range":[114,695.7],"paddingInner":0.1,"paddingOuter":0.01},"axis":{"orient":"bottom","offset":-20.3,"title":null,"labelFontSize":10,"labelFontStyle":"italic","domainColor":"#555","tickColor":"#555","labelAngle":0,"labelPadding":3,"tickSize":3}},"xOffset":{"field":"s","type":"nominal","scale":{"domain":["46C","KO#1","KO#2"],"paddingInner":0.326,"paddingOuter":0.313}},"y":{"field":"v","type":"quantitative","scale":{"domain":[0,1.5],"range":[871.7,674.3],"nice":false},"axis":{"orient":"left","offset":-114,"values":[0,0.5,1,1.5],"format":".1f","title":"Fold change (Relative to 46C-D8)","labelFontSize":10,"titleFontSize":10,"domainColor":"#777","tickColor":"#777","tickSize":5,"titlePadding":13,"labelPadding":3}},"color":{"field":"s","type":"nominal","scale":{"domain":["46C","KO#1","KO#2"],"range":["#4f9b3f","#0b72d2","#7e1a22"]},"legend":{"orient":"none","legendX":117,"legendY":645,"title":null,"symbolType":"M-1,-0.27H1V0.27H-1Z","symbolSize":169,"labelFontSize":9.5,"labelFontWeight":"normal","labelColor":"#444","rowPadding":3,"labelOffset":7,"symbolStrokeWidth":0}}}},
{"layer":[
{"data":{"name":"bars"},"mark":{"type":"rule","color":"#111","strokeWidth":1},"encoding":{"x":{"field":"gene","type":"nominal","scale":{"type":"band","domain":["Gap43","Robo3","Dpysl2","Nrbp2","L1cam","Neurog2","Mark4","Otp","Hes5"],"range":[114,695.7],"paddingInner":0.1,"paddingOuter":0.01},"axis":null},"xOffset":{"field":"s","type":"nominal","scale":{"domain":["46C","KO#1","KO#2"],"paddingInner":0.326,"paddingOuter":0.313}},"y":{"field":"v","type":"quantitative","scale":{"domain":[0,1.5],"range":[871.7,674.3],"nice":false,"zero":false},"axis":null},"y2":{"field":"e"}}},
{"data":{"name":"bars"},"mark":{"type":"tick","orient":"horizontal","color":"#111","size":7.5,"thickness":1},"encoding":{"x":{"field":"gene","type":"nominal","axis":null},"xOffset":{"field":"s","type":"nominal"},"y":{"field":"e","type":"quantitative","axis":null}}},
{"data":{"values":[{"b":"Gap43i","gene":"Gap43","s":"46C","y":1.053,"o":0},{"b":"Gap43i","gene":"Gap43","s":"46C","y":1.096,"o":1},{"b":"Gap43i","gene":"Gap43","s":"KO#1","y":1.096,"o":2},{"b":"Gap43i","gene":"Gap43","s":"KO#1","y":0.46,"o":3},{"b":"Gap43o","gene":"Gap43","s":"46C","y":1.096,"o":0},{"b":"Gap43o","gene":"Gap43","s":"46C","y":1.193,"o":1},{"b":"Gap43o","gene":"Gap43","s":"KO#2","y":1.193,"o":2},{"b":"Gap43o","gene":"Gap43","s":"KO#2","y":0.34,"o":3},
{"b":"Robo3i","gene":"Robo3","s":"46C","y":1.03,"o":0},{"b":"Robo3i","gene":"Robo3","s":"46C","y":1.079,"o":1},{"b":"Robo3i","gene":"Robo3","s":"KO#1","y":1.079,"o":2},{"b":"Robo3i","gene":"Robo3","s":"KO#1","y":0.435,"o":3},{"b":"Robo3o","gene":"Robo3","s":"46C","y":1.079,"o":0},{"b":"Robo3o","gene":"Robo3","s":"46C","y":1.18,"o":1},{"b":"Robo3o","gene":"Robo3","s":"KO#2","y":1.18,"o":2},{"b":"Robo3o","gene":"Robo3","s":"KO#2","y":0.605,"o":3},
{"b":"Dpysl2i","gene":"Dpysl2","s":"46C","y":1.053,"o":0},{"b":"Dpysl2i","gene":"Dpysl2","s":"46C","y":1.096,"o":1},{"b":"Dpysl2i","gene":"Dpysl2","s":"KO#1","y":1.096,"o":2},{"b":"Dpysl2i","gene":"Dpysl2","s":"KO#1","y":0.515,"o":3},{"b":"Dpysl2o","gene":"Dpysl2","s":"46C","y":1.096,"o":0},{"b":"Dpysl2o","gene":"Dpysl2","s":"46C","y":1.19,"o":1},{"b":"Dpysl2o","gene":"Dpysl2","s":"KO#2","y":1.19,"o":2},{"b":"Dpysl2o","gene":"Dpysl2","s":"KO#2","y":0.415,"o":3},
{"b":"Nrbp2i","gene":"Nrbp2","s":"46C","y":1.036,"o":0},{"b":"Nrbp2i","gene":"Nrbp2","s":"46C","y":1.084,"o":1},{"b":"Nrbp2i","gene":"Nrbp2","s":"KO#1","y":1.084,"o":2},{"b":"Nrbp2i","gene":"Nrbp2","s":"KO#1","y":0.48,"o":3},{"b":"Nrbp2o","gene":"Nrbp2","s":"46C","y":1.084,"o":0},{"b":"Nrbp2o","gene":"Nrbp2","s":"46C","y":1.178,"o":1},{"b":"Nrbp2o","gene":"Nrbp2","s":"KO#2","y":1.178,"o":2},{"b":"Nrbp2o","gene":"Nrbp2","s":"KO#2","y":0.39,"o":3},
{"b":"L1cami","gene":"L1cam","s":"46C","y":1.028,"o":0},{"b":"L1cami","gene":"L1cam","s":"46C","y":1.084,"o":1},{"b":"L1cami","gene":"L1cam","s":"KO#1","y":1.084,"o":2},{"b":"L1cami","gene":"L1cam","s":"KO#1","y":0.44,"o":3},{"b":"L1camo","gene":"L1cam","s":"46C","y":1.084,"o":0},{"b":"L1camo","gene":"L1cam","s":"46C","y":1.178,"o":1},{"b":"L1camo","gene":"L1cam","s":"KO#2","y":1.178,"o":2},{"b":"L1camo","gene":"L1cam","s":"KO#2","y":0.265,"o":3},
{"b":"Neurog2i","gene":"Neurog2","s":"46C","y":1.015,"o":0},{"b":"Neurog2i","gene":"Neurog2","s":"46C","y":1.063,"o":1},{"b":"Neurog2i","gene":"Neurog2","s":"KO#1","y":1.063,"o":2},{"b":"Neurog2i","gene":"Neurog2","s":"KO#1","y":0.445,"o":3},{"b":"Neurog2o","gene":"Neurog2","s":"46C","y":1.063,"o":0},{"b":"Neurog2o","gene":"Neurog2","s":"46C","y":1.16,"o":1},{"b":"Neurog2o","gene":"Neurog2","s":"KO#2","y":1.16,"o":2},{"b":"Neurog2o","gene":"Neurog2","s":"KO#2","y":0.52,"o":3},
{"b":"Mark4i","gene":"Mark4","s":"46C","y":1.015,"o":0},{"b":"Mark4i","gene":"Mark4","s":"46C","y":1.053,"o":1},{"b":"Mark4i","gene":"Mark4","s":"KO#1","y":1.053,"o":2},{"b":"Mark4i","gene":"Mark4","s":"KO#1","y":0.75,"o":3},{"b":"Mark4o","gene":"Mark4","s":"46C","y":1.053,"o":0},{"b":"Mark4o","gene":"Mark4","s":"46C","y":1.147,"o":1},{"b":"Mark4o","gene":"Mark4","s":"KO#2","y":1.147,"o":2},{"b":"Mark4o","gene":"Mark4","s":"KO#2","y":0.66,"o":3},
{"b":"Otpi","gene":"Otp","s":"46C","y":1.015,"o":0},{"b":"Otpi","gene":"Otp","s":"46C","y":1.063,"o":1},{"b":"Otpi","gene":"Otp","s":"KO#1","y":1.063,"o":2},{"b":"Otpi","gene":"Otp","s":"KO#1","y":0.47,"o":3},{"b":"Otpo","gene":"Otp","s":"46C","y":1.063,"o":0},{"b":"Otpo","gene":"Otp","s":"46C","y":1.16,"o":1},{"b":"Otpo","gene":"Otp","s":"KO#2","y":1.16,"o":2},{"b":"Otpo","gene":"Otp","s":"KO#2","y":0.395,"o":3},
{"b":"Hes5i","gene":"Hes5","s":"46C","y":1.023,"o":0},{"b":"Hes5i","gene":"Hes5","s":"46C","y":1.074,"o":1},{"b":"Hes5i","gene":"Hes5","s":"KO#1","y":1.074,"o":2},{"b":"Hes5i","gene":"Hes5","s":"KO#1","y":0.605,"o":3},{"b":"Hes5o","gene":"Hes5","s":"46C","y":1.074,"o":0},{"b":"Hes5o","gene":"Hes5","s":"46C","y":1.168,"o":1},{"b":"Hes5o","gene":"Hes5","s":"KO#2","y":1.168,"o":2},{"b":"Hes5o","gene":"Hes5","s":"KO#2","y":0.585,"o":3}]},"mark":{"type":"line","color":"#999","strokeWidth":1,"interpolate":"linear"},"encoding":{"x":{"field":"gene","type":"nominal","axis":null},"xOffset":{"field":"s","type":"nominal"},"y":{"field":"y","type":"quantitative","axis":null},"detail":{"field":"b"},"order":{"field":"o"}}},
{"data":{"values":[{"gene":"Gap43","y":1.096},{"gene":"Robo3","y":1.079},{"gene":"Dpysl2","y":1.096},{"gene":"Nrbp2","y":1.084},{"gene":"L1cam","y":1.084},{"gene":"Neurog2","y":1.063},{"gene":"Mark4","y":1.053},{"gene":"Otp","y":1.063},{"gene":"Hes5","y":1.074}]},"mark":{"type":"text","text":"****","fontSize":10.6,"color":"#666","baseline":"alphabetic","dx":-3,"dy":-1},"encoding":{"x":{"field":"gene","type":"nominal","axis":null},"y":{"field":"y","type":"quantitative","axis":null}}},
{"data":{"values":[{"gene":"Gap43","y":1.193},{"gene":"Robo3","y":1.18},{"gene":"Dpysl2","y":1.19},{"gene":"Nrbp2","y":1.178},{"gene":"L1cam","y":1.178},{"gene":"Neurog2","y":1.16},{"gene":"Mark4","y":1.147},{"gene":"Otp","y":1.16},{"gene":"Hes5","y":1.168}]},"mark":{"type":"text","text":"****","fontSize":10.6,"color":"#666","baseline":"alphabetic","dx":1.7,"dy":-1},"encoding":{"x":{"field":"gene","type":"nominal","axis":null},"y":{"field":"y","type":"quantitative","axis":null}}},
{"data":{"values":[{"t":"H","y":1.86}]},"mark":{"type":"text","fontSize":11,"dx":-95},"encoding":{"text":{"field":"t"},"x":{"datum":"Gap43","type":"nominal","axis":null},"y":{"field":"y","type":"quantitative","axis":null}}}
]}
]}
